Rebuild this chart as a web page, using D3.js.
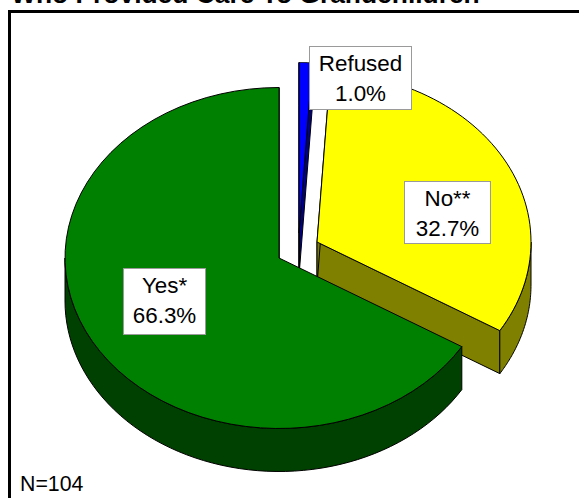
<!DOCTYPE html>
<html><head><meta charset="utf-8">
<script src="https://cdn.jsdelivr.net/npm/d3@7"></script>
<style>html,body{margin:0;padding:0;background:#fff}svg{display:block}text{font-family:"Liberation Sans",Arial,sans-serif}</style>
</head><body><svg id="c" width="579" height="498"></svg>
<script>
const categories = ["Refused", "No**", "Yes*"];
const values = [1.0, 32.7, 66.3];
const topColors = ["#0000ff", "#ffff00", "#008000"];
const sideColors = ["#000080", "#808000", "#004000"];
const explodeX = [20, 38, 0];
const explodeY = [-25, -16, 0];
const labelBoxes = [[309, 46, 102, 63], [404, 181, 86, 62], [123, 268, 82, 66]];
const title = "Who Provided Care To Grandchildren";
const note = "N=104";

const W = 579, H = 498, cx = 279, cy = 258, rx = 214, ry = 170.5, depth = 43;
const svg = d3.select("#c");
const pie = d3.pie().sort(null).value(d => d).startAngle(0).endAngle(2 * Math.PI);
const arcs = pie(values);
const unit = d3.scaleLinear().domain([0, 1]).range([0, 1]);
const pt = (i, a, dz = 0) => [cx + explodeX[i] + unit(rx * Math.sin(a)), cy + explodeY[i] - unit(ry * Math.cos(a)) + dz];
const line = d3.line();
const samples = (a0, a1) => d3.range(0, 61).map(k => a0 + (a1 - a0) * k / 60);

svg.append("text").attr("x", 11).attr("y", 3).attr("font-size", 26.4).attr("font-weight", "bold").text(title);
svg.append("path").attr("d", `M9.5 498V11.5H579`).attr("fill", "none").attr("stroke", "#000").attr("stroke-width", 3);

const drawOrder = [1, 0, 2];
drawOrder.forEach(i => {
  const s = arcs[i], g = svg.append("g");
  const apex = [cx + explodeX[i], cy + explodeY[i]];
  const down = p => [p[0], p[1] + depth];
  const edge = (p, q) => g.append("path").attr("d", line([p, q, down(q), down(p)]) + "Z")
    .attr("fill", sideColors[i]).attr("stroke", "#000").attr("stroke-width", 1);
  edge(apex, pt(i, s.endAngle));
  if (i !== 2) edge(apex, pt(i, s.startAngle));
  const a0 = Math.max(s.startAngle, Math.PI / 2), a1 = Math.min(s.endAngle, 3 * Math.PI / 2);
  if (a1 > a0) {
    const front = samples(a0, a1).map(a => pt(i, a));
    g.append("path").attr("d", line(front.concat(front.map(down).reverse())) + "Z")
      .attr("fill", sideColors[i]).attr("stroke", "#000").attr("stroke-width", 1);
  }
  const top = [apex].concat(samples(s.startAngle, s.endAngle).map(a => pt(i, a)));
  g.append("path").attr("d", line(top) + "Z").attr("fill", topColors[i]).attr("stroke", "#000").attr("stroke-width", 1);
});

categories.forEach((c, i) => {
  const b = labelBoxes[i];
  const g = svg.append("g");
  g.append("rect").attr("x", b[0] + .5).attr("y", b[1] + .5).attr("width", b[2]).attr("height", b[3])
    .attr("fill", "#fff").attr("stroke", "#9a9a9a").attr("stroke-width", 1);
  const tx = b[0] + b[2] / 2 + .5;
  g.append("text").attr("x", tx).attr("y", b[1] + 25).attr("text-anchor", "middle").attr("font-size", 22.4).text(c);
  g.append("text").attr("x", tx).attr("y", b[1] + 55).attr("text-anchor", "middle").attr("font-size", 22.4).text(d3.format(".1f")(values[i]) + "%");
});
svg.append("text").attr("x", 20).attr("y", 491).attr("font-size", 21.3).text(note);
</script></body></html>
